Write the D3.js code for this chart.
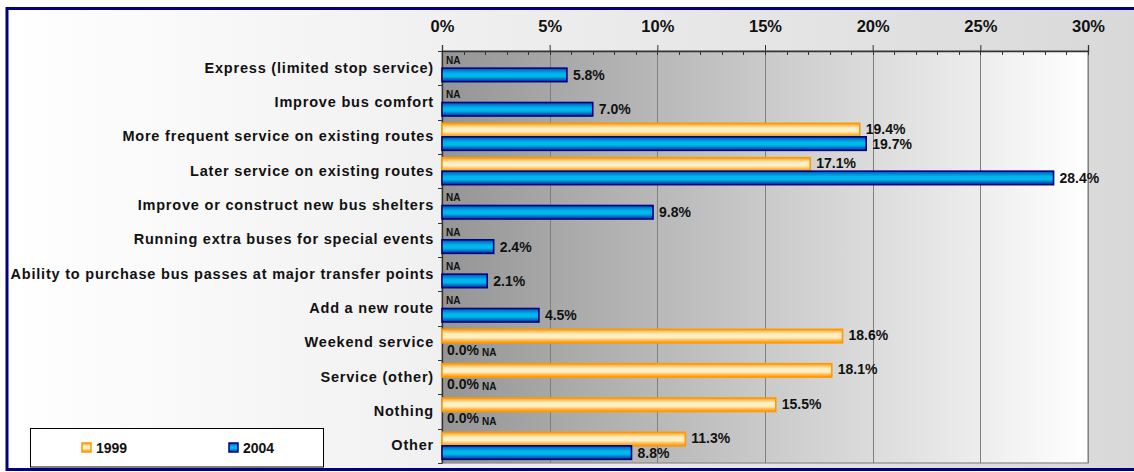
<!DOCTYPE html>
<html>
<head>
<meta charset="utf-8">
<script src="https://cdn.jsdelivr.net/npm/d3@7"></script>
<style>
  html, body { margin: 0; padding: 0; background: #ffffff; }
  svg { display: block; }
  text { font-family: "Liberation Sans", Arial, sans-serif; font-weight: bold; fill: #111; }
</style>
</head>
<body>
<svg id="chart" width="1134" height="472"></svg>
<script>
// Survey responses: requested service improvements, 1999 vs 2004 (percent)
const categories = [
  "Express (limited stop service)",
  "Improve bus comfort",
  "More frequent service on existing routes",
  "Later service on existing routes",
  "Improve or construct new bus shelters",
  "Running extra buses for special events",
  "Ability to purchase bus passes at major transfer points",
  "Add a new route",
  "Weekend service",
  "Service (other)",
  "Nothing",
  "Other"
];
// null = question not asked that year (shown as "NA")
const values1999 = [null, null, 19.4, 17.1, null, null, null, null, 18.6, 18.1, 15.5, 11.3];
const values2004 = [5.8, 7.0, 19.7, 28.4, 9.8, 2.4, 2.1, 4.5, 0.0, 0.0, 0.0, 8.8];
const notes2004 = ["", "", "", "", "", "", "", "", "NA", "NA", "NA", ""];
const seriesNames = ["1999", "2004"];
const xTicks = [0, 5, 10, 15, 20, 25, 30];
const xMinorTicks = d3.range(0, 31, 1);

const svg = d3.select("#chart");
const W = 1134, H = 472;
const plot = { left: 442, right: 1088, top: 51, bottom: 463 };

const defs = svg.append("defs");

// chart area background: white fading to light grey on the right
const bgGrad = defs.append("linearGradient").attr("id", "chartBg")
  .attr("x1", "0").attr("y1", "0").attr("x2", "1").attr("y2", "0");
bgGrad.append("stop").attr("offset", "0").attr("stop-color", "#ffffff");
bgGrad.append("stop").attr("offset", "1").attr("stop-color", "#d8d8d8");

// plot area background: grey at 0% to white at 30%
const plotGrad = defs.append("linearGradient").attr("id", "plotBg")
  .attr("x1", "0").attr("y1", "0").attr("x2", "1").attr("y2", "0");
plotGrad.append("stop").attr("offset", "0").attr("stop-color", "#959595");
plotGrad.append("stop").attr("offset", "1").attr("stop-color", "#ffffff");

// bar fills: vertical tube-like gradients
const orangeGrad = defs.append("linearGradient").attr("id", "bar1999")
  .attr("x1", "0").attr("y1", "0").attr("x2", "0").attr("y2", "1");
[["0", "#ff9c10"], ["0.18", "#ffc870"], ["0.35", "#ffefc2"], ["0.62", "#ffefc2"], ["0.82", "#ffb84a"], ["1", "#ff9900"]]
  .forEach(([o, c]) => orangeGrad.append("stop").attr("offset", o).attr("stop-color", c));

const blueGrad = defs.append("linearGradient").attr("id", "bar2004")
  .attr("x1", "0").attr("y1", "0").attr("x2", "0").attr("y2", "1");
[["0", "#0050b4"], ["0.2", "#0088d4"], ["0.4", "#00b6ea"], ["0.62", "#00b6ea"], ["0.82", "#0070c4"], ["1", "#00309a"]]
  .forEach(([o, c]) => blueGrad.append("stop").attr("offset", o).attr("stop-color", c));

svg.append("rect").attr("x", 0).attr("y", 0).attr("width", W).attr("height", H).attr("fill", "#ffffff");
svg.append("rect").attr("x", 7).attr("y", 8.5).attr("width", W + 10).attr("height", 461)
  .attr("fill", "url(#chartBg)").attr("stroke", "#000080").attr("stroke-width", 3);

// scales
const x = d3.scaleLinear().domain([0, 30]).range([plot.left, plot.right]);
const y = d3.scaleBand().domain(categories).range([plot.top, plot.bottom]).paddingInner(0).paddingOuter(0);
const barH = 13.5;
const groupOff = (y.bandwidth() - 2 * barH) / 2;

// plot area
svg.append("rect")
  .attr("x", plot.left).attr("y", plot.top)
  .attr("width", plot.right - plot.left).attr("height", plot.bottom - plot.top)
  .attr("fill", "url(#plotBg)").attr("stroke", "#8a8a8a").attr("stroke-width", 1.2);

// vertical gridlines at major ticks
svg.append("g").selectAll("line").data(xTicks.slice(1)).join("line")
  .attr("x1", d => Math.round(x(d)) + 0.5).attr("x2", d => Math.round(x(d)) + 0.5)
  .attr("y1", plot.top).attr("y2", plot.bottom)
  .attr("stroke", "#7f7f7f").attr("stroke-width", 1);

// minor ticks on the top axis (inside)
svg.append("g").selectAll("line").data(xMinorTicks).join("line")
  .attr("x1", d => Math.round(x(d)) + 0.5).attr("x2", d => Math.round(x(d)) + 0.5)
  .attr("y1", plot.top).attr("y2", plot.top + 4)
  .attr("stroke", "#333").attr("stroke-width", 1);

// top axis with percent labels
const xAxis = svg.append("g").attr("transform", `translate(0,${plot.top})`)
  .call(d3.axisTop(x).tickValues(xTicks).tickSize(6).tickPadding(13).tickFormat(d => d + "%"));
xAxis.select(".domain").attr("stroke", "#333").attr("stroke-width", 1.3);
xAxis.selectAll(".tick line").attr("stroke", "#333");
xAxis.selectAll(".tick text")
  .attr("font-family", "Liberation Sans, Arial, sans-serif")
  .attr("font-weight", "bold").attr("font-size", "16.5px").attr("fill", "#111");

// left axis: category labels at band centres
const yAxis = svg.append("g").attr("transform", `translate(${plot.left},0)`)
  .call(d3.axisLeft(y).tickSize(0).tickPadding(8));
yAxis.select(".domain").attr("stroke", "#333").attr("stroke-width", 1.3);
yAxis.selectAll(".tick text")
  .attr("font-family", "Liberation Sans, Arial, sans-serif")
  .attr("font-weight", "bold").attr("font-size", "14.5px")
  .attr("letter-spacing", "0.8px").attr("fill", "#111");

// category boundary ticks
const bounds = categories.map(c => y(c)).concat([plot.bottom]);
svg.append("g").selectAll("line").data(bounds).join("line")
  .attr("x1", plot.left - 4).attr("x2", plot.left)
  .attr("y1", d => Math.round(d) + 0.5).attr("y2", d => Math.round(d) + 0.5)
  .attr("stroke", "#333").attr("stroke-width", 1);

const rows = categories.map((c, i) => ({ c, v1: values1999[i], v2: values2004[i], note: notes2004[i] }));

// 1999 bars
svg.append("g").selectAll("rect").data(rows.filter(r => r.v1 !== null && r.v1 > 0)).join("rect")
  .attr("x", x(0)).attr("y", r => y(r.c) + groupOff)
  .attr("width", r => x(r.v1) - x(0)).attr("height", barH)
  .attr("fill", "url(#bar1999)").attr("stroke", "#ff9900").attr("stroke-width", 1.6);

// 2004 bars
svg.append("g").selectAll("rect").data(rows.filter(r => r.v2 > 0)).join("rect")
  .attr("x", x(0)).attr("y", r => y(r.c) + groupOff + barH)
  .attr("width", r => x(r.v2) - x(0)).attr("height", barH)
  .attr("fill", "url(#bar2004)").attr("stroke", "#000080").attr("stroke-width", 1.6);

// 1999 labels (value or NA)
const lab1 = svg.append("g");
lab1.selectAll("text").data(rows).join("text")
  .attr("x", r => r.v1 === null ? x(0) + 4 : x(r.v1) + 6)
  .attr("y", r => y(r.c) + groupOff + barH / 2 - 1)
  .attr("dy", "0.36em")
  .attr("font-size", r => r.v1 === null ? "10px" : "14px")
  .text(r => r.v1 === null ? "NA" : r.v1.toFixed(1) + "%");

// 2004 labels with optional note
const lab2 = svg.append("g").selectAll("text").data(rows).join("text")
  .attr("x", r => x(r.v2) + (r.v2 > 0 ? 6 : 5))
  .attr("y", r => y(r.c) + groupOff + barH * 1.5)
  .attr("dy", "0.36em")
  .attr("font-size", "14px");
lab2.append("tspan").text(r => r.v2.toFixed(1) + "%");
lab2.filter(r => r.note).append("tspan")
  .attr("dx", 3).attr("dy", 1.5).attr("font-size", "10px").text(r => r.note);

// legend
const legend = svg.append("g");
legend.append("rect").attr("x", 30.5).attr("y", 428.5).attr("width", 293).attr("height", 38.5)
  .attr("fill", "#ffffff").attr("stroke", "#000").attr("stroke-width", 1);
const legX = [82, 229];
const legendItems = legend.selectAll("g").data(seriesNames).join("g")
  .attr("transform", (d, i) => `translate(${legX[i]},443)`);
legendItems.append("rect").attr("width", 9).attr("height", 9)
  .attr("fill", (d, i) => i === 0 ? "url(#bar1999)" : "url(#bar2004)")
  .attr("stroke", (d, i) => i === 0 ? "#ff9900" : "#000080").attr("stroke-width", 1.5);
legendItems.append("text").attr("x", 14).attr("y", 4.5).attr("dy", "0.36em")
  .attr("font-size", "14px").text(d => d);
</script>
</body>
</html>
